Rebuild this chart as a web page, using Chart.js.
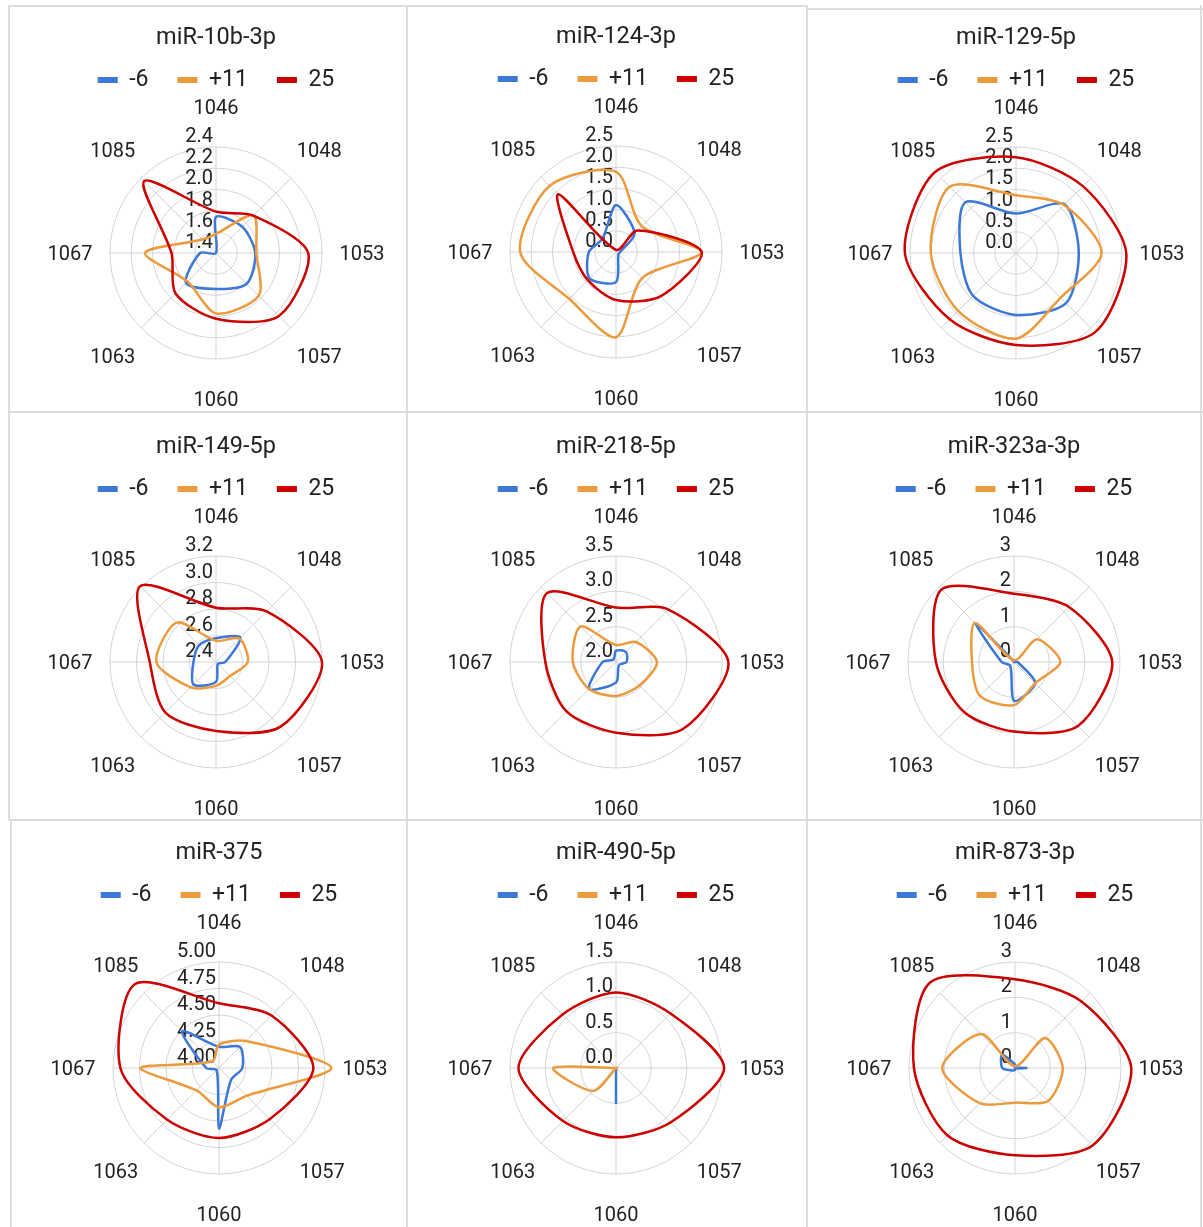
<!DOCTYPE html>
<html><head><meta charset="utf-8">
<script src="https://cdn.jsdelivr.net/npm/chart.js@4.4.1/dist/chart.umd.min.js"></script>
<style>
html,body{margin:0;padding:0;background:#fff;}
#wrap{position:relative;width:1203px;height:1227px;overflow:hidden;background:#fff;}
#wrap canvas{position:absolute;}
.b{position:absolute;background:#dcdcdc;}
</style></head><body><div id="wrap"></div>
<script>
// ---- categories / series ----
const categories = ['1046','1048','1053','1057','1060','1063','1067','1085'];
const seriesLabels = ['-6','+11','25'];
const seriesColors = ['#3c78d8','#ec9a3e','#cc0000'];
const titles = ['miR-10b-3p','miR-124-3p','miR-129-5p','miR-149-5p','miR-218-5p','miR-323a-3p','miR-375','miR-490-5p','miR-873-3p'];

// ---- values (order of categories) ----
const mir10b_neg6 = [1.74, 1.75, 1.77, 1.81, 1.74, 1.80, 1.55, 1.40];
const mir10b_p11  = [1.58, 1.90, 1.78, 1.97, 1.97, 1.78, 2.07, 1.58];
const mir10b_25   = [1.79, 1.90, 2.27, 2.24, 2.02, 1.94, 1.82, 2.36];

const mir124_neg6 = [1.11, 0.62, 0.10, 0.08, 0.71, 0.88, 0.64, 0.45];
const mir124_p11  = [1.89, 0.86, 2.02, 0.87, 2.01, 1.56, 2.26, 2.21];
const mir124_25   = [0.05, 0.72, 2.02, 1.48, 1.13, 0.94, 1.01, 1.93];

const mir129_neg6 = [0.93, 1.62, 1.48, 1.67, 1.46, 1.43, 1.31, 1.69];
const mir129_p11  = [1.36, 1.60, 2.02, 1.49, 2.02, 1.93, 2.01, 2.21];
const mir129_25   = [2.26, 2.23, 2.60, 2.64, 2.17, 2.21, 2.62, 2.70];

const mir149_neg6 = [2.58, 2.66, 2.47, 2.42, 2.55, 2.64, 2.57, 2.58];
const mir149_p11  = [2.56, 2.65, 2.64, 2.55, 2.58, 2.67, 2.85, 2.82];
const mir149_25   = [2.81, 2.94, 3.20, 3.09, 2.92, 2.94, 2.90, 3.21];

const mir218_neg6 = [2.16, 2.20, 2.15, 2.06, 2.29, 2.54, 2.19, 2.05];
const mir218_p11  = [2.24, 2.40, 2.58, 2.47, 2.48, 2.54, 2.61, 2.71];
const mir218_25   = [2.77, 3.05, 3.59, 3.34, 3.00, 2.99, 3.00, 3.38];

const mir323_neg6 = [0.02, 0.00, 0.10, 0.85, 1.10, 0.15, 0.35, 1.51];
const mir323_p11  = [0.05, 0.91, 1.31, 0.85, 1.22, 1.36, 1.19, 1.56];
const mir323_25   = [1.93, 2.20, 2.78, 2.56, 1.97, 2.00, 2.21, 2.90];

const mir375_neg6 = [4.20, 4.28, 4.22, 4.16, 4.57, 4.03, 4.12, 4.49];
const mir375_p11  = [4.22, 4.36, 5.06, 4.37, 4.37, 4.30, 4.74, 4.09];
const mir375_25   = [4.61, 4.70, 4.89, 4.68, 4.66, 4.69, 4.93, 5.12];

const mir490_neg6 = [0.00, 0.00, 0.00, 0.00, 0.51, 0.00, 0.00, 0.00];
const mir490_p11  = [0.00, 0.00, 0.00, 0.00, 0.00, 0.46, 0.89, 0.00];
const mir490_25   = [1.07, 1.09, 1.53, 1.09, 0.98, 1.06, 1.38, 1.07];

const mir873_neg6 = [0.10, 0.00, 0.35, 0.00, 0.05, 0.10, 0.36, 0.52];
const mir873_p11  = [0.05, 1.20, 1.35, 1.32, 0.98, 1.41, 2.06, 1.36];
const mir873_25   = [2.51, 2.66, 3.29, 3.10, 2.47, 2.70, 2.86, 3.41];

// ---- radial tick settings per panel ----
const tickMin      = [1.4, 0,   0,   2.4, 2.0, 0, 4.0,  0,   0];
const tickMax      = [2.4, 2.5, 2.5, 3.2, 3.5, 3, 5.0,  1.5, 3];
const tickStep     = [0.2, 0.5, 0.5, 0.2, 0.5, 1, 0.25, 0.5, 1];
const tickDecimals = [1,   1,   1,   1,   1,   0, 2,    1,   0];

const panelSeries = [
  [mir10b_neg6, mir10b_p11, mir10b_25],
  [mir124_neg6, mir124_p11, mir124_25],
  [mir129_neg6, mir129_p11, mir129_25],
  [mir149_neg6, mir149_p11, mir149_25],
  [mir218_neg6, mir218_p11, mir218_25],
  [mir323_neg6, mir323_p11, mir323_25],
  [mir375_neg6, mir375_p11, mir375_25],
  [mir490_neg6, mir490_p11, mir490_25],
  [mir873_neg6, mir873_p11, mir873_25]
];

// ---- page layout (panel centres) ----
const centerX = [216, 616, 1016, 216, 616, 1014, 219, 616, 1015];
const centerY = [253, 252, 253, 662, 662, 662, 1068, 1068, 1068];
const CW = 400, CH = 408, CX = 200, CY = 248, RAD = 106;

const wrap = document.getElementById('wrap');
// panel borders
[[8,5,2,815],[406,5,2,1222],[806,5,2,1222],[10,820,2,407],[1200,5,2,1222],
 [8,5,800,2],[806,8,397,2],[8,411,1195,2],[8,819,1195,2]].forEach(r=>{
  const d=document.createElement('div'); d.className='b';
  d.style.left=r[0]+'px'; d.style.top=r[1]+'px'; d.style.width=r[2]+'px'; d.style.height=r[3]+'px';
  wrap.appendChild(d);
});

const radarText = {
  id: 'radarText',
  beforeDatasetsDraw(chart, args, opts) {
    const s = chart.scales.r, ctx = chart.ctx;
    ctx.save();
    ctx.font = '20px Roboto';
    ctx.fillStyle = '#222';
    ctx.textAlign = 'right';
    ctx.textBaseline = 'middle';
    s.ticks.forEach(t => {
      const d = s.getDistanceFromCenterForValue(t.value);
      ctx.fillText(Number(t.value).toFixed(opts.decimals), s.xCenter - 3, s.yCenter - d - 10);
    });
    ctx.textAlign = 'center';
    chart.data.labels.forEach((lab, i) => {
      const p = s.getPointPosition(i, s.drawingArea + 40);
      ctx.fillText(lab, p.x, p.y + 2);
    });
    ctx.restore();
  }
};

titles.forEach((title, k) => {
  const cv = document.createElement('canvas');
  cv.width = CW; cv.height = CH;
  cv.style.width = CW + 'px'; cv.style.height = CH + 'px';
  cv.style.left = (centerX[k] - CX) + 'px';
  cv.style.top = (centerY[k] - CY) + 'px';
  wrap.appendChild(cv);
  new Chart(cv, {
    type: 'radar',
    data: {
      labels: categories,
      datasets: seriesLabels.map((lab, j) => ({
        label: lab,
        data: panelSeries[k][j],
        borderColor: seriesColors[j],
        backgroundColor: seriesColors[j],
        fill: false,
        borderWidth: 2.5,
        pointRadius: 0,
        pointHoverRadius: 0,
        tension: 0.28,
        clip: false,
        order: 3 - j
      }))
    },
    options: {
      responsive: false,
      animation: false,
      layout: { padding: 0 },
      plugins: {
        title: { display: true, text: title, color: '#222',
                 font: { family: 'Roboto', size: 23.5, weight: 'normal' },
                 padding: { top: 19, bottom: -12.7 } },
        legend: { display: true, position: 'top',
          labels: { color: '#222', font: { family: 'Roboto', size: 23 },
                    boxWidth: 20, boxHeight: 6, padding: 29,
                    sort: (a, b) => a.datasetIndex - b.datasetIndex,
                    generateLabels: (chart) => Chart.defaults.plugins.legend.labels.generateLabels(chart)
                      .map(it => Object.assign(it, { lineWidth: 0 })) } },
        tooltip: { enabled: false },
        radarText: { decimals: tickDecimals[k] }
      },
      scales: {
        r: {
          min: tickMin[k], max: tickMax[k],
          ticks: { display: false, stepSize: tickStep[k] },
          pointLabels: { display: false },
          grid: { circular: true, color: '#d4d4d4', lineWidth: 1 },
          angleLines: { color: '#d4d4d4', lineWidth: 1 },
          afterFit: (scale) => { scale.xCenter = CX; scale.yCenter = CY; scale.drawingArea = RAD; }
        }
      }
    },
    plugins: [radarText]
  });
});
</script>
</body></html>
